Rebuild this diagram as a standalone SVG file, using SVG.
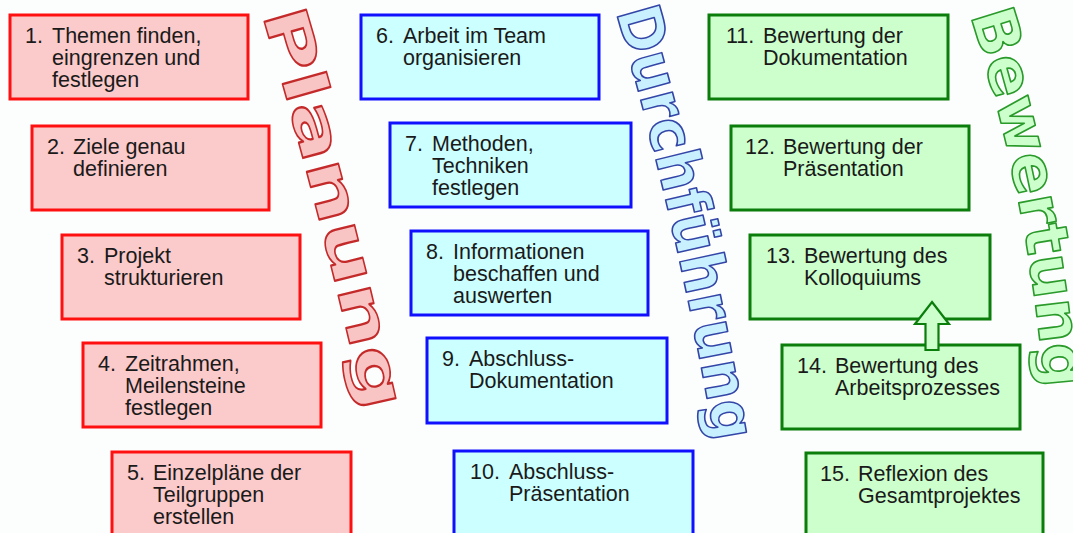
<svg xmlns="http://www.w3.org/2000/svg" width="1073" height="533" viewBox="0 0 1073 533">
<defs>
<style>
.box rect { stroke-width: 3; }
.plan rect { fill: #fbcaca; stroke: #ff1010; }
.durch rect { fill: #ccffff; stroke: #1010ff; }
.bew rect { fill: #ccffcc; stroke: #0a7d0a; }
.box text { font-family: "Liberation Sans", Arial, sans-serif; font-size: 21.5px; fill: #1a1a1a; }
.word { font-family: "DejaVu Sans", sans-serif; font-weight: bold; font-size: 60px; stroke-width: 1.6; stroke-linejoin: round; }
.arrow { fill: #ccffcc; stroke: #0a7d0a; stroke-width: 2.2; stroke-linejoin: miter; }
</style>
<path id="pPlan" d="M262 14 Q322 215 368 424"/>
<path id="pDurch" d="M616 12 Q679 228 716 450"/>
<path id="pBew" d="M970 15 Q1030 200 1045 398"/>
</defs>
<rect x="0" y="0" width="1073" height="533" fill="#fcfdfd"/>

<g id="phase-labels">
<text class="word" fill="#f8c4c4" stroke="#c42a2a"><textPath href="#pPlan" textLength="412" lengthAdjust="spacingAndGlyphs">Planung</textPath></text>
<text class="word" fill="#c9f0ff" stroke="#3346a8"><textPath href="#pDurch" textLength="442" lengthAdjust="spacingAndGlyphs">Durchführung</textPath></text>
<text class="word" fill="#ccffcc" stroke="#2a9a2a"><textPath href="#pBew" textLength="382" lengthAdjust="spacingAndGlyphs">Bewertung</textPath></text>
</g>

<g id="node1" class="box plan"><rect x="10" y="15" width="238" height="84"/>
<text><tspan x="25" y="43">1.</tspan><tspan x="52" y="43">Themen finden,</tspan><tspan x="52" y="65">eingrenzen und</tspan><tspan x="52" y="87">festlegen</tspan></text></g>
<g id="node2" class="box plan"><rect x="32" y="126" width="237" height="84"/>
<text><tspan x="47" y="154">2.</tspan><tspan x="73" y="154">Ziele genau</tspan><tspan x="73" y="176">definieren</tspan></text></g>
<g id="node3" class="box plan"><rect x="62" y="235" width="238" height="84"/>
<text><tspan x="77" y="263">3.</tspan><tspan x="104" y="263">Projekt</tspan><tspan x="104" y="285">strukturieren</tspan></text></g>
<g id="node4" class="box plan"><rect x="83" y="343" width="238" height="84"/>
<text><tspan x="98" y="371">4.</tspan><tspan x="125" y="371">Zeitrahmen,</tspan><tspan x="125" y="393">Meilensteine</tspan><tspan x="125" y="415">festlegen</tspan></text></g>
<g id="node5" class="box plan"><rect x="112" y="452" width="239" height="86"/>
<text><tspan x="127" y="480">5.</tspan><tspan x="153" y="480">Einzelpläne der</tspan><tspan x="153" y="502">Teilgruppen</tspan><tspan x="153" y="524">erstellen</tspan></text></g>

<g id="node6" class="box durch"><rect x="361" y="15" width="238" height="84"/>
<text><tspan x="376" y="43">6.</tspan><tspan x="403" y="43">Arbeit im Team</tspan><tspan x="403" y="65">organisieren</tspan></text></g>
<g id="node7" class="box durch"><rect x="390" y="123" width="241" height="84"/>
<text><tspan x="405" y="151">7.</tspan><tspan x="432" y="151">Methoden,</tspan><tspan x="432" y="173">Techniken</tspan><tspan x="432" y="195">festlegen</tspan></text></g>
<g id="node8" class="box durch"><rect x="411" y="231" width="237" height="84"/>
<text><tspan x="426" y="259">8.</tspan><tspan x="453" y="259">Informationen</tspan><tspan x="453" y="281">beschaffen und</tspan><tspan x="453" y="303">auswerten</tspan></text></g>
<g id="node9" class="box durch"><rect x="427" y="338" width="240" height="85"/>
<text><tspan x="442" y="366">9.</tspan><tspan x="469" y="366">Abschluss-</tspan><tspan x="469" y="388">Dokumentation</tspan></text></g>
<g id="node10" class="box durch"><rect x="454" y="451" width="239" height="86"/>
<text><tspan x="470" y="479">10.</tspan><tspan x="509" y="479">Abschluss-</tspan><tspan x="509" y="501">Präsentation</tspan></text></g>

<g id="node11" class="box bew"><rect x="709" y="15" width="239" height="84"/>
<text><tspan x="726" y="43">11.</tspan><tspan x="763" y="43">Bewertung der</tspan><tspan x="763" y="65">Dokumentation</tspan></text></g>
<g id="node12" class="box bew"><rect x="731" y="126" width="238" height="84"/>
<text><tspan x="745" y="154">12.</tspan><tspan x="783" y="154">Bewertung der</tspan><tspan x="783" y="176">Präsentation</tspan></text></g>
<g id="node13" class="box bew"><rect x="750" y="235" width="240" height="84"/>
<text><tspan x="766" y="263">13.</tspan><tspan x="804" y="263">Bewertung des</tspan><tspan x="804" y="285">Kolloquiums</tspan></text></g>
<g id="node14" class="box bew"><rect x="782" y="345" width="238" height="84"/>
<text><tspan x="797" y="373">14.</tspan><tspan x="835" y="373">Bewertung des</tspan><tspan x="835" y="395">Arbeitsprozesses</tspan></text></g>
<g id="node15" class="box bew"><rect x="806" y="453" width="237" height="86"/>
<text><tspan x="820" y="481">15.</tspan><tspan x="858" y="481">Reflexion des</tspan><tspan x="858" y="503">Gesamtprojektes</tspan></text></g>

<g id="connectors">
<polygon class="arrow" points="932,302 949,324 938.5,324 938.5,350 925.5,350 925.5,324 915,324"/>
</g>
</svg>
